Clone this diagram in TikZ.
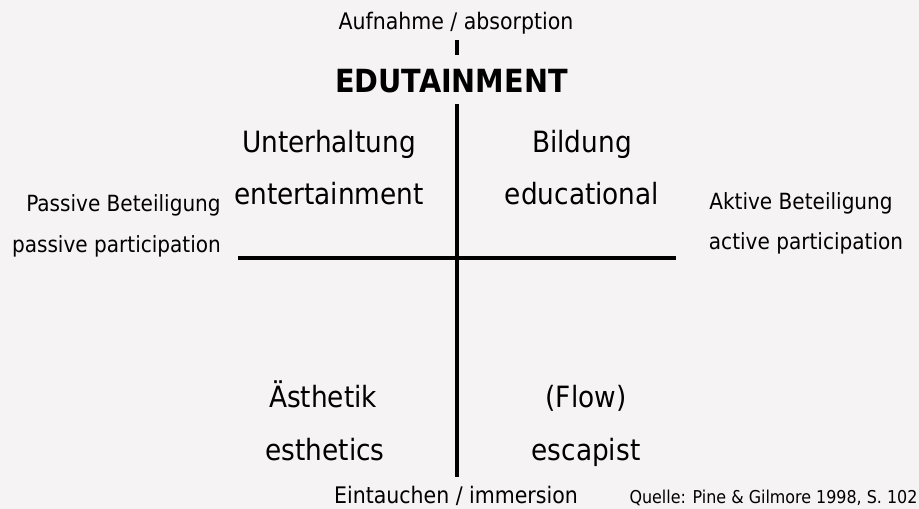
\documentclass[tikz,border=0pt]{standalone}
\usepackage{fontspec}
\setmainfont{DejaVu Sans Condensed}
\definecolor{bg}{HTML}{F5F3F4}
\begin{document}
\begin{tikzpicture}[x=1pt,y=-1pt,
  lbl/.style={inner sep=0pt,anchor=base,text=black},
  big/.style={lbl,font=\fontsize{29.3}{34}\selectfont},
  side/.style={lbl,font=\fontsize{22.3}{26}\selectfont},
  axlbl/.style={lbl,font=\fontsize{22.8}{26}\selectfont},
  small/.style={lbl,font=\fontsize{17.7}{20}\selectfont},
  axis/.style={line width=3.5pt,black}]
\fill[bg] (0,0) rectangle (919,509);
\useasboundingbox (0,0) rectangle (919,509);
\node[axlbl] (top) at (456,29) {Aufnahme / absorption};
\node[lbl,font=\fontsize{31.9}{36}\selectfont\bfseries] (edu) at (451.5,92) {EDUTAINMENT};
\coordinate (t1) at (457,40);
\coordinate (t2) at (457,55);
\coordinate (v1) at (457,104);
\coordinate (v2) at (457,477);
\coordinate (h1) at (238,258);
\coordinate (h2) at (676,258);
\draw[axis] (t1) -- (t2);
\draw[axis] (v1) -- (v2);
\draw[axis] (h1) -- (h2);
\node[big] (unt) at (329,152) {Unterhaltung};
\node[big] (ent) at (329,204) {entertainment};
\node[big] (bil) at (582,152) {Bildung};
\node[big] (edc) at (582,204) {educational};
\node[big] (aes) at (323,407) {Ästhetik};
\node[big] (est) at (325,460) {esthetics};
\node[big] (flo) at (586,407) {(Flow)};
\node[big] (esc) at (586,460) {escapist};
\node[side] (pb) at (123.5,211) {Passive Beteiligung};
\node[side] (pp) at (116.5,252) {passive participation};
\node[side] (ab) at (801,209) {Aktive Beteiligung};
\node[side] (ap) at (806,249) {active participation};
\node[axlbl] (bot) at (456,503) {Eintauchen / immersion};
\node[small] (src) at (773.5,503) {Quelle: Pine \& Gilmore 1998, S. 102};
\end{tikzpicture}
\end{document}
